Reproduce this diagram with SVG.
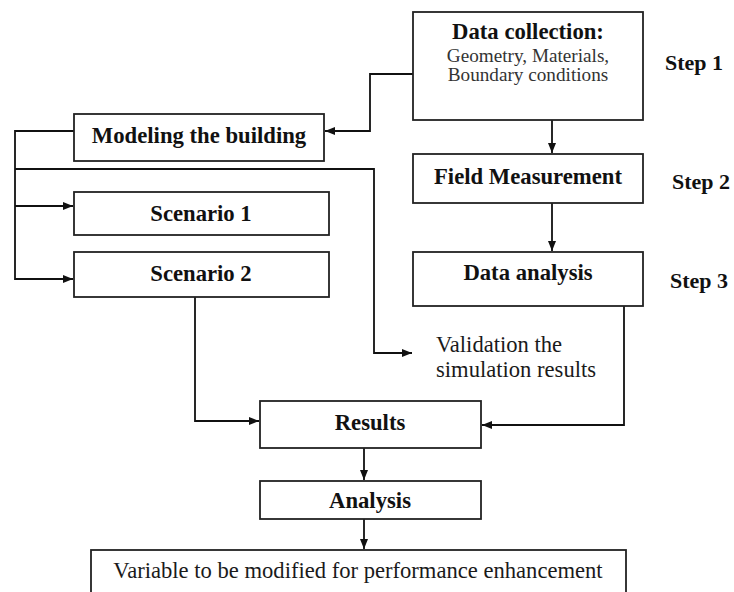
<svg xmlns="http://www.w3.org/2000/svg" width="734" height="592" viewBox="0 0 734 592">
<style>
.box{fill:#fff;stroke:#222;stroke-width:1.8}
.b{font-family:"Liberation Serif","Times New Roman",serif;font-weight:bold;font-size:22.7px;fill:#111;text-anchor:middle}
.st{font-family:"Liberation Serif","Times New Roman",serif;font-weight:bold;font-size:22px;fill:#111;text-anchor:middle}
.r{font-family:"Liberation Serif","Times New Roman",serif;font-size:22.6px;fill:#1a1a1a}
.s{font-family:"Liberation Serif","Times New Roman",serif;font-size:19.2px;fill:#333;text-anchor:middle}
.c{fill:none;stroke:#111;stroke-width:1.8}
</style>
<defs>
<marker id="ah" viewBox="0 0 10 10" refX="10" refY="5" markerWidth="10" markerHeight="10" markerUnits="userSpaceOnUse" orient="auto">
<path d="M0,1 L10,5 L0,9 Z" fill="#111"/>
</marker>
</defs>
<rect width="734" height="592" fill="#fff"/>
<g id="connectors">
<path class="c" d="M413,74 H370 V131 H325" marker-end="url(#ah)"/>
<path class="c" d="M552,120 V153" marker-end="url(#ah)"/>
<path class="c" d="M552,203 V251" marker-end="url(#ah)"/>
<path class="c" d="M74,131 H15 V279 H73" marker-end="url(#ah)"/>
<path class="c" d="M15,206 H73" marker-end="url(#ah)"/>
<path class="c" d="M15,169 H374 V353 H412" marker-end="url(#ah)"/>
<path class="c" d="M195,297 V421 H259" marker-end="url(#ah)"/>
<path class="c" d="M624,306 V425 H482" marker-end="url(#ah)"/>
<path class="c" d="M364,448 V480" marker-end="url(#ah)"/>
<path class="c" d="M364,519 V549" marker-end="url(#ah)"/>
</g>
<g id="data-collection">
<rect class="box" x="413" y="12" width="230" height="108"/>
<text class="b" x="528" y="39">Data collection:</text>
<text class="s" x="528" y="62">Geometry, Materials,</text>
<text class="s" x="528" y="81">Boundary conditions</text>
</g>
<g id="step1"><text class="st" x="694" y="70">Step 1</text></g>
<g id="modeling">
<rect class="box" x="74" y="114" width="250" height="47"/>
<text class="b" x="199" y="143">Modeling the building</text>
</g>
<g id="field-measurement">
<rect class="box" x="413" y="154" width="230" height="49"/>
<text class="b" x="528" y="184">Field Measurement</text>
</g>
<g id="step2"><text class="st" x="701" y="189">Step 2</text></g>
<g id="scenario1">
<rect class="box" x="74" y="192" width="255" height="43"/>
<text class="b" x="201" y="221">Scenario 1</text>
</g>
<g id="scenario2">
<rect class="box" x="74" y="252" width="255" height="45"/>
<text class="b" x="201" y="281">Scenario 2</text>
</g>
<g id="data-analysis">
<rect class="box" x="413" y="252" width="230" height="54"/>
<text class="b" x="528" y="280">Data analysis</text>
</g>
<g id="step3"><text class="st" x="699" y="288">Step 3</text></g>
<g id="validation">
<text class="r" x="436" y="352">Validation the</text>
<text class="r" x="436" y="377">simulation results</text>
</g>
<g id="results">
<rect class="box" x="260" y="401" width="221" height="47"/>
<text class="b" x="370" y="430">Results</text>
</g>
<g id="analysis">
<rect class="box" x="260" y="481" width="221" height="38"/>
<text class="b" x="370" y="508">Analysis</text>
</g>
<g id="variable">
<rect class="box" x="91" y="550" width="535" height="60"/>
<text class="r" x="358" y="578" text-anchor="middle">Variable to be modified for performance enhancement</text>
</g>
</svg>
